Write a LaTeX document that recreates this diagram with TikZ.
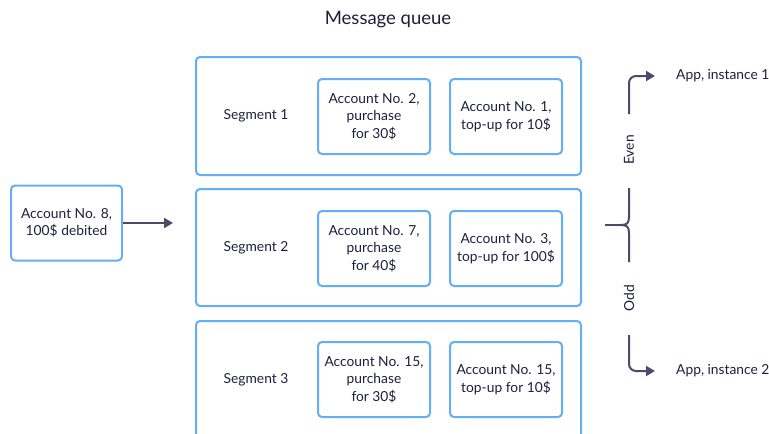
\documentclass[tikz,border=0pt]{standalone}
\usepackage{fontspec}
\setmainfont{Lato}
\usetikzlibrary{arrows.meta}
\definecolor{boxblue}{HTML}{62AEF7}
\definecolor{txt}{HTML}{1E1E3C}
\definecolor{arr}{HTML}{4B4B69}
\tikzset{
  segbox/.style={draw=boxblue, line width=2pt, rounded corners=4pt},
  msgbox/.style={draw=boxblue, line width=2pt, rounded corners=4pt, minimum width=112pt, minimum height=75pt, align=center, text=txt, font=\fontsize{13.8}{17.5}\selectfont, inner sep=0pt},
  lbl/.style={text=txt, font=\fontsize{13.8}{17.5}\selectfont, inner sep=0pt},
  conn/.style={draw=arr, line width=2pt},
  tip/.style={-{Triangle[length=9pt,width=10pt]}}
}
\begin{document}
\begin{tikzpicture}[x=1pt,y=-1pt]
\useasboundingbox (0,0) rectangle (769,434);
\clip (0,0) rectangle (769,434);
\node[lbl, font=\fontsize{18.5}{22}\selectfont] (title) at (388,20) {Message queue};
% segments
\draw[segbox] (196,57) rectangle (581,175);
\draw[segbox] (196,189) rectangle (581,306);
\draw[segbox] (196,321) rectangle (581,460);
\node[lbl] (s1) at (256,116) {Segment 1};
\node[lbl] (s2) at (256,248) {Segment 2};
\node[lbl] (s3) at (256,380) {Segment 3};
% messages
\node[msgbox] (m12) at (374,116.5) {Account No. 2,\\purchase\\for 30\$};
\node[msgbox] (m11) at (506,116.5) {Account No. 1,\\top-up for 10\$};
\node[msgbox] (m22) at (374,248.5) {Account No. 7,\\purchase\\for 40\$};
\node[msgbox] (m21) at (506,248.5) {Account No. 3,\\top-up for 100\$};
\node[msgbox] (m32) at (374,379.5) {Account No. 15,\\purchase\\for 30\$};
\node[msgbox] (m31) at (506,379.5) {Account No. 15,\\top-up for 10\$};
% incoming
\node[msgbox, minimum width=111pt] (in) at (66.5,223) {Account No. 8,\\100\$ debited};
\coordinate (inend) at (173,223);
\draw[conn, tip] (in.east) -- (inend);
% brace
\coordinate (bl) at (605,225);
\coordinate (bt) at (629,188);
\coordinate (bb) at (629,262);
\draw[conn] (bl) -- (622,225);
\draw[conn] (bt) -- (629,217) .. controls (629,223) and (627,225) .. (621,225);
\draw[conn] (bb) -- (629,233) .. controls (629,227) and (627,225) .. (621,225);
\node[lbl, rotate=90] (even) at (629,150) {Even};
\node[lbl, rotate=90] (odd) at (629,298) {Odd};
% outputs
\node[lbl, anchor=west] (app1) at (676,76) {App, instance 1};
\node[lbl, anchor=west] (app2) at (676,371) {App, instance 2};
\coordinate (u0) at (629,114);
\coordinate (d0) at (629,335);
\draw[conn, tip, rounded corners=7pt] (u0) |- (655,76);
\draw[conn, tip, rounded corners=7pt] (d0) |- (655,371);
\end{tikzpicture}
\end{document}
